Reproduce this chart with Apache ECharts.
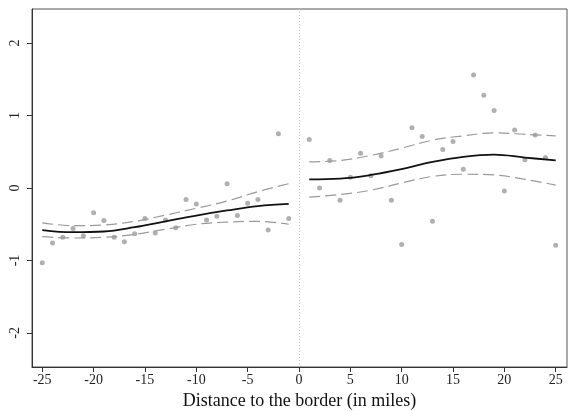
<!DOCTYPE html>
<html>
<head>
<meta charset="utf-8">
<script src="https://cdn.jsdelivr.net/npm/echarts@6/dist/echarts.min.js"></script>
<style>
  html, body { margin: 0; padding: 0; background: #fff; }
  #chart { width: 573px; height: 411px; }
</style>
</head>
<body>
<div id="chart"></div>
<script>
  // tick labels
  const xTicks = [-25, -20, -15, -10, -5, 0, 5, 10, 15, 20, 25]
  const yTicks = [-2, -1, 0, 1, 2]

  // binned means, left of border
  const leftX = [-25, -24, -23, -22, -21, -20, -19, -18, -17, -16, -15, -14, -13,
    -12, -11, -10, -9, -8, -7, -6, -5, -4, -3, -2, -1]
  const leftY = [-1.03, -0.76, -0.68, -0.56, -0.66, -0.34, -0.45, -0.68, -0.74, -0.63, -0.42, -0.62, -0.44,
    -0.55, -0.16, -0.22, -0.44, -0.39, 0.06, -0.38, -0.21, -0.16, -0.58, 0.75, -0.42]

  // binned means, right of border
  const rightX = [1, 2, 3, 4, 5, 6, 7, 8, 9, 10, 11, 12, 13, 14, 15, 16, 17, 18, 19, 20, 21, 22, 23, 24, 25]
  const rightY = [0.67, 0.0, 0.38, -0.17, 0.15, 0.48, 0.17, 0.44, -0.17, -0.78, 0.83, 0.71, -0.46,
    0.53, 0.64, 0.26, 1.56, 1.28, 1.07, -0.04, 0.80, 0.39, 0.73, 0.42, -0.79]

  // fitted polynomial and confidence band
  const fitLeftX = [-25, -22, -19, -16, -13, -10, -7, -4, -1]
  const fitLeft = [-0.58, -0.61, -0.60, -0.54, -0.46, -0.38, -0.31, -0.25, -0.22]
  const ciLeftHi = [-0.48, -0.52, -0.51, -0.46, -0.375, -0.28, -0.18, -0.05, 0.06]
  const ciLeftLo = [-0.67, -0.69, -0.68, -0.64, -0.57, -0.50, -0.47, -0.46, -0.50]

  const fitRightX = [1, 4, 7, 10, 13, 16, 19, 22, 25]
  const fitRight = [0.12, 0.13, 0.18, 0.26, 0.36, 0.43, 0.46, 0.42, 0.38]
  const ciRightHi = [0.36, 0.38, 0.45, 0.55, 0.66, 0.72, 0.76, 0.74, 0.72]
  const ciRightLo = [-0.125, -0.09, -0.03, 0.07, 0.16, 0.19, 0.18, 0.12, 0.04]

  const zip = (xs, ys) => xs.map((x, i) => [x, ys[i]])
  const font = '"Liberation Serif", "DejaVu Serif", serif'

  function fitLine (xs, ys, dashed) {
    return {
      type: 'line',
      data: zip(xs, ys),
      smooth: 0.4,
      showSymbol: false,
      silent: true,
      z: dashed ? 3 : 4,
      lineStyle: dashed
        ? { color: '#9a9a9a', width: 1.2, type: [11, 5] }
        : { color: '#111', width: 1.8 }
    }
  }

  function dots (xs, ys) {
    return {
      type: 'scatter',
      data: zip(xs, ys),
      symbolSize: 5,
      itemStyle: { color: '#9c9c9c' },
      z: 2
    }
  }

  let chart = echarts.init(document.getElementById('chart'))
  let option = {
    animation: false,
    backgroundColor: '#fff',
    grid: {
      left: 32, right: 6, top: 9, bottom: 44,
      outerBoundsMode: 'none',
      show: true, borderColor: '#555', borderWidth: 1
    },
    xAxis: {
      type: 'value',
      min: -26, max: 26.1,
      name: 'Distance to the border (in miles)',
      nameLocation: 'middle',
      nameGap: 25,
      nameTextStyle: { fontFamily: font, fontSize: 18, color: '#111' },
      splitLine: { show: false },
      axisLine: { onZero: false, lineStyle: { color: '#333' } },
      axisTick: { show: true, length: 5, customValues: xTicks, lineStyle: { color: '#333' } },
      axisLabel: { customValues: xTicks, fontFamily: font, fontSize: 14, color: '#222', margin: 6 }
    },
    yAxis: {
      type: 'value',
      min: -2.47, max: 2.47,
      splitLine: { show: false },
      axisLine: { show: true, onZero: false, lineStyle: { color: '#333' } },
      axisTick: { show: true, length: 5, customValues: yTicks, lineStyle: { color: '#333' } },
      axisLabel: { customValues: yTicks, rotate: 90, fontFamily: font, fontSize: 14, color: '#222', margin: 10 }
    },
    series: [
      {
        type: 'line',
        data: [],
        markLine: {
          silent: true,
          symbol: 'none',
          label: { show: false },
          lineStyle: { color: '#c4c4c4', type: [1, 2], width: 1 },
          data: [{ xAxis: 0 }]
        }
      },
      dots(leftX, leftY),
      dots(rightX, rightY),
      fitLine(fitLeftX, ciLeftHi, true),
      fitLine(fitLeftX, ciLeftLo, true),
      fitLine(fitLeftX, fitLeft, false),
      fitLine(fitRightX, ciRightHi, true),
      fitLine(fitRightX, ciRightLo, true),
      fitLine(fitRightX, fitRight, false)
    ]
  }
  chart.setOption(option, true)
</script>
</body>
</html>
